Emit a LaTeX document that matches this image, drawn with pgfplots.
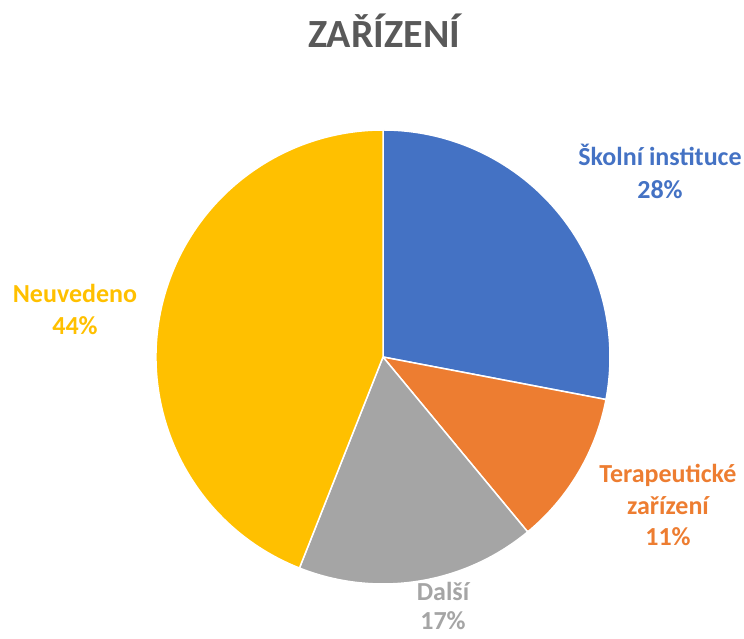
\documentclass[border=0pt]{standalone}
\usepackage{pgfplots}
\usepackage{pgfplotstable}
\pgfplotsset{compat=1.18}
\usepackage{fontspec}
\setmainfont{Carlito}
\definecolor{pieblue}{HTML}{4472C4}
\definecolor{pieorange}{HTML}{ED7D31}
\definecolor{piegray}{HTML}{A5A5A5}
\definecolor{piegold}{HTML}{FFC000}
\definecolor{titlegray}{HTML}{595959}

\pgfplotstableread{
idx value
0 28
1 11
2 17
3 44
}\piedata

\pgfplotstablegetelem{0}{value}\of\piedata \let\vA\pgfplotsretval
\pgfplotstablegetelem{1}{value}\of\piedata \let\vB\pgfplotsretval
\pgfplotstablegetelem{2}{value}\of\piedata \let\vC\pgfplotsretval
\pgfplotstablegetelem{3}{value}\of\piedata \let\vD\pgfplotsretval
\pgfmathsetmacro\aA{90-3.6*\vA}
\pgfmathsetmacro\aB{\aA-3.6*\vB}
\pgfmathsetmacro\aC{\aB-3.6*\vC}
\pgfmathsetmacro\aD{\aC-3.6*\vD}

\begin{document}
\begin{tikzpicture}
\begin{axis}[
  x=1bp, y=1bp,
  xmin=0, xmax=744, ymin=0, ymax=639,
  hide axis, clip=false,
]
\path (axis cs:0,0) rectangle (axis cs:744,639);
\addplot[draw=none, forget plot] coordinates {(0,0) (744,639)};
% slices
\fill[pieblue, draw=white, line width=1.5bp] (axis cs:383,282) -- ++(90:227bp) arc[start angle=90, end angle=\aA, radius=227bp] -- cycle;
\fill[pieorange, draw=white, line width=1.5bp] (axis cs:383,282) -- ++(\aA:227bp) arc[start angle=\aA, end angle=\aB, radius=227bp] -- cycle;
\fill[piegray, draw=white, line width=1.5bp] (axis cs:383,282) -- ++(\aB:227bp) arc[start angle=\aB, end angle=\aC, radius=227bp] -- cycle;
\fill[piegold, draw=white, line width=1.5bp] (axis cs:383,282) -- ++(\aC:227bp) arc[start angle=\aC, end angle=\aD, radius=227bp] -- cycle;
% title
\node[anchor=base, text=titlegray, font=\fontsize{40bp}{48bp}\selectfont\bfseries, inner sep=0pt] at (axis cs:384,591) {ZAŘÍZENÍ};
% labels
\tikzset{lab/.style={anchor=base, inner sep=0pt, font=\fontsize{26bp}{32bp}\selectfont\bfseries}}
\node[lab, text=pieblue] at (axis cs:660,473) {Školní instituce};
\node[lab, text=pieblue] at (axis cs:660,440) {28\%};
\node[lab, text=pieorange] at (axis cs:668,156) {Terapeutické};
\node[lab, text=pieorange] at (axis cs:668,124) {zařízení};
\node[lab, text=pieorange] at (axis cs:668,93) {11\%};
\node[lab, text=piegray] at (axis cs:443,38) {Další};
\node[lab, text=piegray] at (axis cs:443,9) {17\%};
\node[lab, text=piegold] at (axis cs:75,336) {Neuvedeno};
\node[lab, text=piegold] at (axis cs:75,304) {44\%};
\end{axis}
\end{tikzpicture}
\end{document}
